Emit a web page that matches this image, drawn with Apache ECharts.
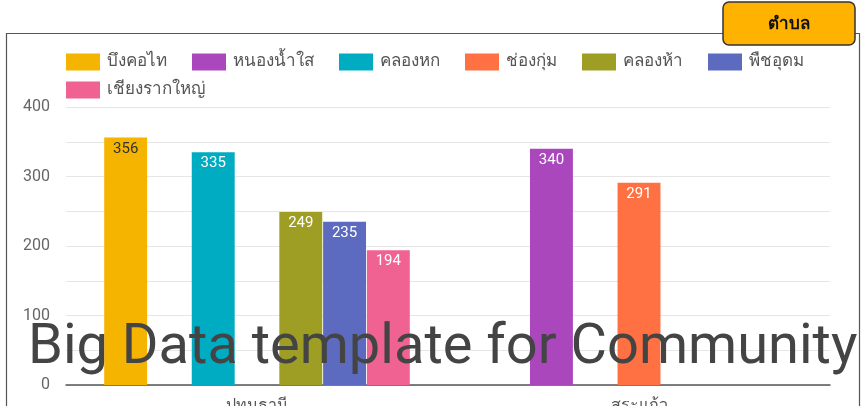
<!DOCTYPE html>
<html>
<head>
<meta charset="utf-8">
<script src="https://cdn.jsdelivr.net/npm/echarts@6/dist/echarts.min.js"></script>
<style>
  html, body { margin: 0; padding: 0; background: #fff; }
  #chart { width: 863px; height: 406px; }
</style>
</head>
<body>
<div id="chart"></div>
<script>
// Provinces on the x axis
const provinces = ['ปทุมธานี', 'สระแก้ว'];

// One series per sub-district (ตำบล); null where it does not belong to the province
const seriesNames = ['บึงคอไท', 'หนองน้ำใส', 'คลองหก', 'ช่องกุ่ม', 'คลองห้า', 'พืชอุดม', 'เชียงรากใหญ่'];
const bungKhoThai = [356, null];
const nongNamSai = [null, 340];
const khlongHok = [335, null];
const chongKum = [null, 291];
const khlongHa = [249, null];
const phuetUdom = [235, null];
const chiangRakYai = [194, null];
const seriesValues = [bungKhoThai, nongNamSai, khlongHok, chongKum, khlongHa, phuetUdom, chiangRakYai];

const colors = ['#F4B400', '#AB47BC', '#00ACC1', '#FF7043', '#9E9D24', '#5C6BC0', '#F06292'];
const labelColors = ['#333333', '#fff', '#fff', '#fff', '#fff', '#fff', '#fff'];

const yTicks = [0, 100, 200, 300, 400];

const FONT = 'Roboto, "Noto Sans", "DejaVu Sans", sans-serif';

const legendBase = {
  padding: 0,
  itemWidth: 34,
  itemHeight: 17,
  itemGap: 25,
  icon: 'rect',
  textStyle: { fontSize: 17, color: '#555', fontFamily: FONT, lineHeight: 18, padding: [0, 0, 0, 2] }
};

const chart = echarts.init(document.getElementById('chart'));

chart.setOption({
  animation: false,
  textStyle: { fontFamily: FONT },
  color: colors,
  // legend wraps onto a second row in the original, two legends reproduce that
  legend: [
    Object.assign({}, legendBase, { left: 66, top: 53, data: seriesNames.slice(0, 6) }),
    Object.assign({}, legendBase, { left: 66, top: 81, data: seriesNames.slice(6) })
  ],
  grid: { left: 66, right: 33, top: 107, bottom: 21, containLabel: false, outerBoundsMode: 'none' },
  xAxis: {
    type: 'category',
    data: provinces,
    axisTick: { show: false },
    axisLine: { lineStyle: { color: '#555', width: 1.5 } },
    axisLabel: { fontSize: 16, color: '#555', margin: 13 }
  },
  yAxis: {
    type: 'value',
    min: 0,
    max: 400,
    interval: 50,
    axisLine: { show: false },
    axisTick: { show: false },
    splitLine: { lineStyle: { color: '#e6e6e6', width: 1 } },
    axisLabel: {
      fontSize: 16,
      color: '#666',
      margin: 16,
      formatter: v => (yTicks.includes(v) ? String(v) : '')
    }
  },
  series: seriesNames.map((name, i) => ({
    name,
    type: 'bar',
    data: seriesValues[i],
    barGap: '2%',
    barCategoryGap: '20%',
    itemStyle: { color: colors[i] },
    label: {
      show: true,
      position: 'insideTop',
      distance: 4,
      fontSize: 15,
      color: labelColors[i],
      fontFamily: FONT
    }
  })),
  graphic: [
    {
      type: 'rect',
      z: 0,
      shape: { x: 6.5, y: 33.5, width: 853, height: 400 },
      style: { fill: 'none', stroke: '#555', lineWidth: 1.2 }
    },
    {
      type: 'rect',
      z: 100,
      shape: { x: 723, y: 2, width: 132, height: 43, r: 6 },
      style: { fill: '#FFB300', stroke: '#333', lineWidth: 1.5 }
    },
    {
      type: 'text',
      z: 101,
      x: 789,
      y: 25,
      style: {
        text: 'ตำบล',
        fill: '#111',
        font: 'bold 17px ' + FONT,
        align: 'center',
        verticalAlign: 'middle'
      }
    },
    {
      type: 'text',
      z: 200,
      x: 28,
      y: 349,
      style: {
        text: 'Big Data template for Community',
        fill: '#444',
        font: '56px ' + FONT,
        align: 'left',
        verticalAlign: 'middle'
      }
    }
  ]
});
</script>
</body>
</html>
